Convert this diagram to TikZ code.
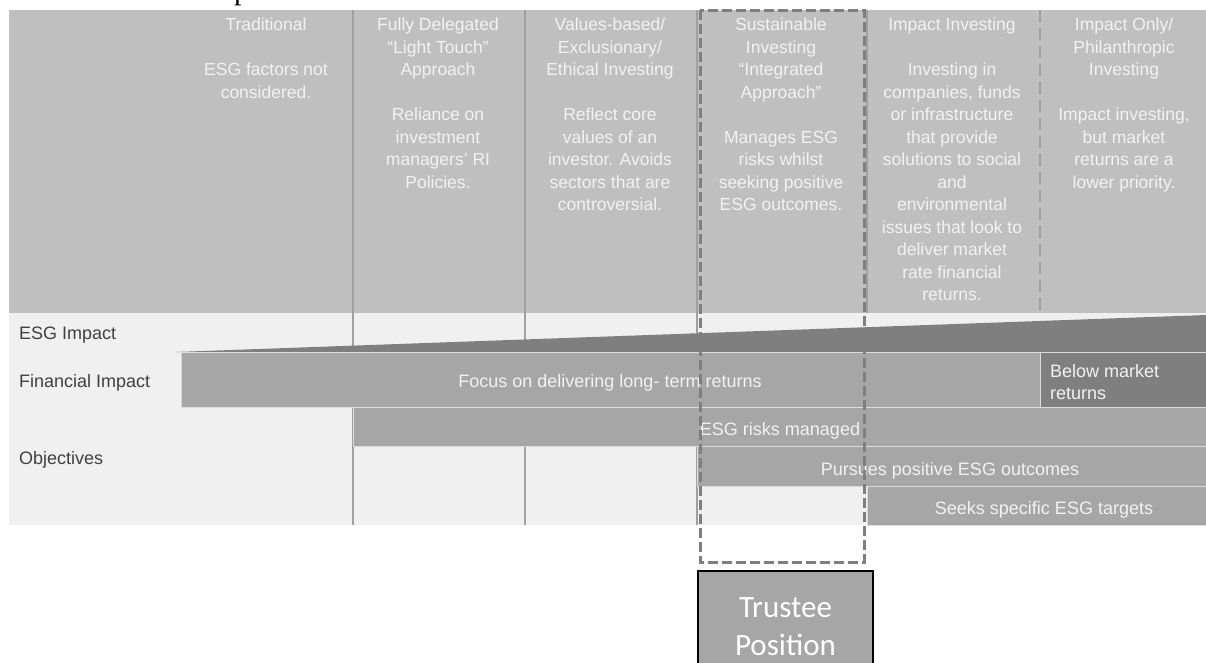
\documentclass[tikz,border=0pt]{standalone}
\usepackage{fontspec}
\setmainfont{Liberation Sans}
\newfontfamily\trusteefont{Carlito}
\newfontfamily\titlefont{Liberation Serif}
\usepackage{xcolor}
\usetikzlibrary{positioning, calc}
\definecolor{headgrey}{HTML}{BFBFBF}
\definecolor{rowgrey}{HTML}{F0F0F0}
\definecolor{bargrey}{HTML}{A6A6A6}
\definecolor{darkgrey}{HTML}{7F7F7F}
\definecolor{linegrey}{HTML}{A0A0A0}
\definecolor{labelgrey}{HTML}{404040}
\definecolor{headtext}{HTML}{F2F2F2}

\begin{document}
\begin{tikzpicture}[x=1pt, y=-1pt,
    headtxt/.style={anchor=north, align=center, inner sep=0pt, text=headtext,
      font=\fontsize{17.5}{22.5}\selectfont},
    rowlabel/.style={anchor=base west, inner sep=0pt, text=labelgrey,
      font=\fontsize{18}{22}\selectfont},
    bartxt/.style={anchor=base, inner sep=0pt, text=headtext,
      font=\fontsize{18}{22}\selectfont},
    colsep/.style={linegrey, line width=1.5pt},
    barbox/.style={fill=bargrey, draw=white!60!bargrey, line width=0.8pt},
    dashbox/.style={darkgrey, line width=3pt, dash pattern=on 10pt off 4pt},
    trustee/.style={draw=black, line width=2pt, fill=bargrey, text=white, align=center,
      inner sep=0pt, minimum width=175pt, minimum height=112pt,
      font=\trusteefont\fontsize{31}{38}\selectfont}]
      \def\gap{22.5pt}
      \def\hbot{313}
      \def\rbot{525}

      \useasboundingbox (0,0) rectangle (1206,662);
      \clip (0,0) rectangle (1206,662);

      \node[anchor=base west, inner sep=0pt, font=\titlefont\fontsize{30}{30}\selectfont] (title) at (234,-0.5) {p};

      \fill[headgrey] (9,10) rectangle (1206,\hbot);
      \fill[rowgrey] (9,\hbot) rectangle (1206,\rbot);

      \draw[colsep] (353,10) -- (353,\rbot);
      \draw[colsep] (525,10) -- (525,\rbot);
      \draw[colsep] (697,10) -- (697,\rbot);
      \draw[colsep] (867,10) -- (867,\hbot);
      \draw[colsep, line width=1.2pt, dash pattern=on 12pt off 6pt] (1040,10) -- (1040,\hbot);

      \node[headtxt] (trad) at (266,18) {Traditional\\[\gap]ESG factors not\\considered.};
      \node[headtxt] (deleg) at (438,18) {Fully Delegated\\``Light Touch''\\Approach\\[\gap]Reliance on\\investment\\managers' RI\\Policies.};
      \node[headtxt] (values) at (610,18) {Values-based/\\Exclusionary/\\Ethical Investing\\[\gap]Reflect core\\values of an\\investor. Avoids\\sectors that are\\controversial.};
      \node[headtxt] (sustain) at (781,18) {Sustainable\\Investing\\``Integrated\\Approach''\\[\gap]Manages ESG\\risks whilst\\seeking positive\\ESG outcomes.};
      \node[headtxt] (impact) at (952,18) {Impact Investing\\[\gap]Investing in\\companies, funds\\or infrastructure\\that provide\\solutions to social\\and\\environmental\\issues that look to\\deliver market\\rate financial\\returns.};
      \node[headtxt] (philan) at (1124,18) {Impact Only/\\Philanthropic\\Investing\\[\gap]Impact investing,\\but market\\returns are a\\lower priority.};

      \node[rowlabel] (esglab) at (19,339) {ESG Impact};
      \node[rowlabel] (finlab) at (19,387) {Financial Impact};
      \node[rowlabel] (objlab) at (19,464) {Objectives};

      \fill[darkgrey] (175,352) -- (1206,315) -- (1206,352) -- cycle;

      \draw[barbox] (181,352.5) rectangle (1040,407);
      \draw[barbox, fill=darkgrey] (1040,352.5) rectangle (1206,407);
      \draw[barbox] (353,407) rectangle (1206,446.5);
      \draw[barbox] (697,446.5) rectangle (1206,486.5);
      \draw[barbox] (867,486.5) rectangle (1206,525);

      \node[bartxt] (longterm) at (610,387) {Focus on delivering long- term returns};
      \node[anchor=base west, align=left, inner sep=0pt, text=headtext,
        font=\fontsize{18}{22}\selectfont] (below) at (1050,399) {Below market\\returns};
      \node[bartxt] (risks) at (780,435) {ESG risks managed};
      \node[bartxt] (pursue) at (950,475) {Pursues positive ESG outcomes};
      \node[bartxt] (targets) at (1044,514.5) {Seeks specific ESG targets};

      \draw[dashbox] (700,10) rectangle (864,562);

      \node[trustee, anchor=north] (trust) at (785.5,570) {Trustee\\Position};
    \end{tikzpicture}
\end{document}
